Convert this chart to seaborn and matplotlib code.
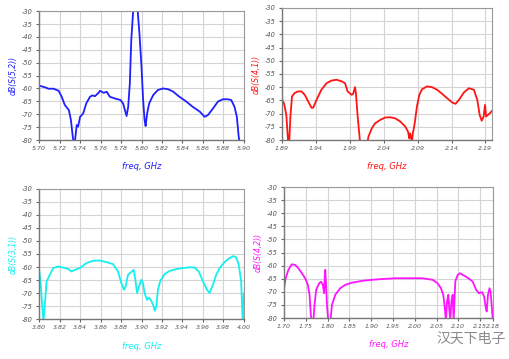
import numpy as np
import pandas as pd
import matplotlib.pyplot as plt
import seaborn as sns

# -----------------------------------
# DATA
# -----------------------------------

f_s52 = [5.700, 5.706, 5.709, 5.714, 5.719, 5.722, 5.725, 5.729, 5.731, 5.733, 5.7345,
         5.7367, 5.738, 5.740, 5.743, 5.746, 5.7497, 5.752, 5.7545, 5.758, 5.7594, 5.763,
         5.766, 5.769, 5.774, 5.7795, 5.782, 5.7838, 5.7854, 5.787, 5.7886, 5.790, 5.7925,
         5.7955, 5.798, 5.800, 5.8016, 5.803, 5.804, 5.8055, 5.8075, 5.8114, 5.816, 5.821,
         5.826, 5.8308, 5.837, 5.8438, 5.850, 5.857, 5.8617, 5.865, 5.870, 5.8747, 5.8795,
         5.8844, 5.8877, 5.8909, 5.8932, 5.895, 5.897, 5.900]
s52 = [-58.9, -59.6, -60.1, -60.1, -60.9, -63.2, -66.4, -68.4, -72.2, -79.4, -82.0,
       -74.2, -74.8, -71.0, -69.7, -65.8, -63.2, -62.7, -63.0, -61.7, -60.9, -61.7,
       -61.3, -63.2, -63.9, -64.5, -65.8, -68.4, -70.7, -67.1, -58.0, -41.2, -26.0,
       -26.0, -38.7, -51.6, -64.5, -72.2, -74.6, -69.7, -65.8, -62.6, -60.6, -60.0,
       -60.3, -61.2, -63.2, -65.1, -67.1, -69.0, -71.0, -70.3, -67.7, -65.1, -64.2,
       -64.2, -64.5, -67.1, -71.0, -78.7, -84.0, -86.0]

f_s41 = [1.890, 1.893, 1.8964, 1.899, 1.9005, 1.9024, 1.9048, 1.9088, 1.9137, 1.9187,
         1.9236, 1.9286, 1.9335, 1.936, 1.941, 1.948, 1.9557, 1.963, 1.9705, 1.978,
         1.9829, 1.9868, 1.9928, 1.995, 1.9977, 1.999, 2.0016, 2.005, 2.010, 2.016,
         2.0175, 2.0224, 2.0273, 2.0348, 2.042, 2.0496, 2.057, 2.0644, 2.0718, 2.0758,
         2.0778, 2.079, 2.0817, 2.083, 2.0857, 2.089, 2.0926, 2.0965, 2.104, 2.1113,
         2.1188, 2.126, 2.1336, 2.141, 2.146, 2.151, 2.1583, 2.1657, 2.173, 2.178,
         2.1815, 2.1845, 2.1874, 2.1894, 2.191, 2.1938, 2.1968, 2.2003]
s41 = [-64.8, -66.1, -70.5, -80.5, -82.0, -71.1, -63.5, -62.2, -61.6, -61.6,
       -62.9, -65.4, -67.8, -67.8, -64.8, -61.0, -58.5, -57.5, -57.2, -57.8,
       -58.5, -61.6, -62.9, -62.5, -60.0, -62.2, -71.1, -80.5, -86.0, -81.0,
       -78.7, -75.6, -73.7, -72.4, -71.5, -71.4, -71.8, -73.0, -74.9, -76.8,
       -79.4, -77.5, -80.5, -77.5, -73.7, -67.3, -62.9, -60.8, -59.7, -60.0,
       -61.0, -62.5, -64.2, -65.8, -66.3, -64.8, -62.0, -60.4, -61.0, -64.8,
       -70.5, -72.7, -71.1, -66.7, -71.1, -70.5, -69.8, -68.8]

f_s31 = [3.800, 3.8013, 3.8029, 3.8042, 3.8055, 3.8072, 3.8104, 3.8137, 3.8185, 3.8234,
         3.8283, 3.8315, 3.8348, 3.8397, 3.8462, 3.8527, 3.8592, 3.8657, 3.8722, 3.877,
         3.8803, 3.8829, 3.8845, 3.8868, 3.890, 3.8924, 3.894, 3.8956, 3.8976, 3.8998,
         3.9015, 3.903, 3.9054, 3.9073, 3.9096, 3.9119, 3.913, 3.9145, 3.916, 3.9184,
         3.9226, 3.9275, 3.934, 3.9405, 3.947, 3.9519, 3.956, 3.960, 3.964, 3.9665,
         3.9698, 3.973, 3.9763, 3.9811, 3.986, 3.990, 3.9925, 3.995, 3.9974, 3.999,
         4.000]
s31 = [-61.1, -65.5, -74.5, -81.0, -74.5, -65.5, -63.0, -60.4, -59.8, -60.2,
       -60.7, -61.7, -61.1, -60.4, -58.5, -57.6, -57.5, -58.1, -58.9, -61.7,
       -66.2, -68.7, -67.4, -63.0, -61.9, -61.1, -64.9, -70.0, -67.4, -64.9,
       -66.2, -70.0, -72.6, -71.7, -73.0, -75.1, -76.8, -75.1, -68.7, -65.3,
       -62.7, -61.5, -60.8, -60.4, -60.1, -60.2, -61.7, -65.5, -68.7, -70.0,
       -66.8, -63.0, -60.4, -58.1, -56.6, -55.8, -56.3, -59.1, -65.5, -82.0,
       -70.0]

f_s42 = [1.700, 1.7038, 1.710, 1.7177, 1.7254, 1.733, 1.741, 1.7485, 1.7546, 1.7585,
         1.7615, 1.764, 1.767, 1.770, 1.7738, 1.7808, 1.785, 1.789, 1.792, 1.7938,
         1.7946, 1.796, 1.799, 1.8015, 1.806, 1.810, 1.8177, 1.829, 1.8408, 1.856,
         1.879, 1.902, 1.925, 1.956, 1.987, 2.0177, 2.0408, 2.0523, 2.060, 2.0654,
         2.069, 2.0715, 2.074, 2.077, 2.079, 2.0815, 2.084, 2.087, 2.0892, 2.093,
         2.0985, 2.1038, 2.110, 2.1215, 2.133, 2.1408, 2.147, 2.1546, 2.159, 2.163,
         2.165, 2.168, 2.1715, 2.1738, 2.177, 2.179, 2.182]
s42 = [-68.6, -64.8, -61.6, -59.5, -59.7, -61.0, -62.9, -64.8, -67.3, -71.1,
       -78.7, -82.0, -82.0, -74.9, -69.2, -66.7, -66.1, -67.3, -70.5, -63.5,
       -61.6, -66.0, -76.2, -81.0, -82.0, -74.9, -71.1, -68.6, -67.3, -66.5,
       -65.8, -65.4, -65.1, -64.8, -64.8, -64.8, -65.4, -66.7, -68.6, -71.1,
       -76.2, -81.0, -73.7, -71.1, -76.2, -81.0, -73.7, -71.1, -81.0, -66.0,
       -63.5, -62.9, -63.5, -64.6, -66.1, -69.2, -70.5, -70.1, -71.7, -76.2,
       -77.5, -71.1, -68.6, -69.9, -76.2, -81.0, -83.0]

y_ticks = list(range(-30, -81, -5))

# -----------------------------------
# PANEL SETUP
# -----------------------------------

panels = [
    # freq, values, color, ylabel, position, xticks, xlim
    (f_s52, s52, "#1f1fff", "dB(S(5,2))", [0.077, 0.610, 0.402, 0.359],
     np.arange(5.70, 5.901, 0.02), (5.70, 5.90)),
    (f_s41, s41, "#ff1414", "dB(S(4,1))", [0.554, 0.610, 0.413, 0.368],
     np.arange(1.89, 2.191, 0.05), (1.89, 2.20)),
    (f_s31, s31, "#14f0f0", "dB(S(3,1))", [0.077, 0.111, 0.402, 0.363],
     np.arange(3.80, 4.001, 0.02), (3.80, 4.00)),
    (f_s42, s42, "#ff14ff", "dB(S(4,2))", [0.558, 0.114, 0.411, 0.365],
     list(np.arange(1.70, 2.151, 0.05)) + [2.18], (1.70, 2.18)),
]

sns.set_style("white")
plt.rcParams["font.family"] = ["DejaVu Sans"]

fig = plt.figure(figsize=(5.09, 3.59), dpi=100)

for freq, vals, color, ylab, pos, xt, xl in panels:
    ax = fig.add_axes(pos)
    df = pd.DataFrame({"freq": freq, "db": vals})
    sns.lineplot(data=df, x="freq", y="db", color=color, linewidth=1.3,
                 ax=ax, sort=False, estimator=None)
    ax.set_xlim(*xl)
    ax.set_ylim(-80, -30)
    ax.set_xticks(xt)
    ax.set_xticklabels([f"{v:.2f}" for v in xt], fontsize=4.5, color="#555555",
                       style="italic")
    ax.set_yticks(y_ticks)
    ax.set_yticklabels([str(v) for v in y_ticks], fontsize=4.8, color="#555555",
                       style="italic")
    ax.grid(True, color="#d4d4d4", linewidth=0.8)
    ax.tick_params(axis="both", length=2.5, width=0.8, color="#666666", pad=2,
                   direction="out", bottom=True, left=True)
    for side in ["left", "bottom"]:
        ax.spines[side].set_color("#777777")
        ax.spines[side].set_linewidth(1.0)
    for side in ["top", "right"]:
        ax.spines[side].set_color("#999999")
        ax.spines[side].set_linewidth(0.8)
    ax.set_ylabel(ylab, color=color, fontsize=5.5, style="italic", labelpad=3)
    ax.set_xlabel("freq, GHz", color=color, fontsize=6, style="italic", labelpad=8)

# watermark
fig.text(0.925, 0.058, "汉天下电子", fontsize=10, color="#8a8a8a",
         family=["Noto Sans CJK SC", "DejaVu Sans"], ha="center", va="center")

fig.savefig("out.png", dpi=100)
